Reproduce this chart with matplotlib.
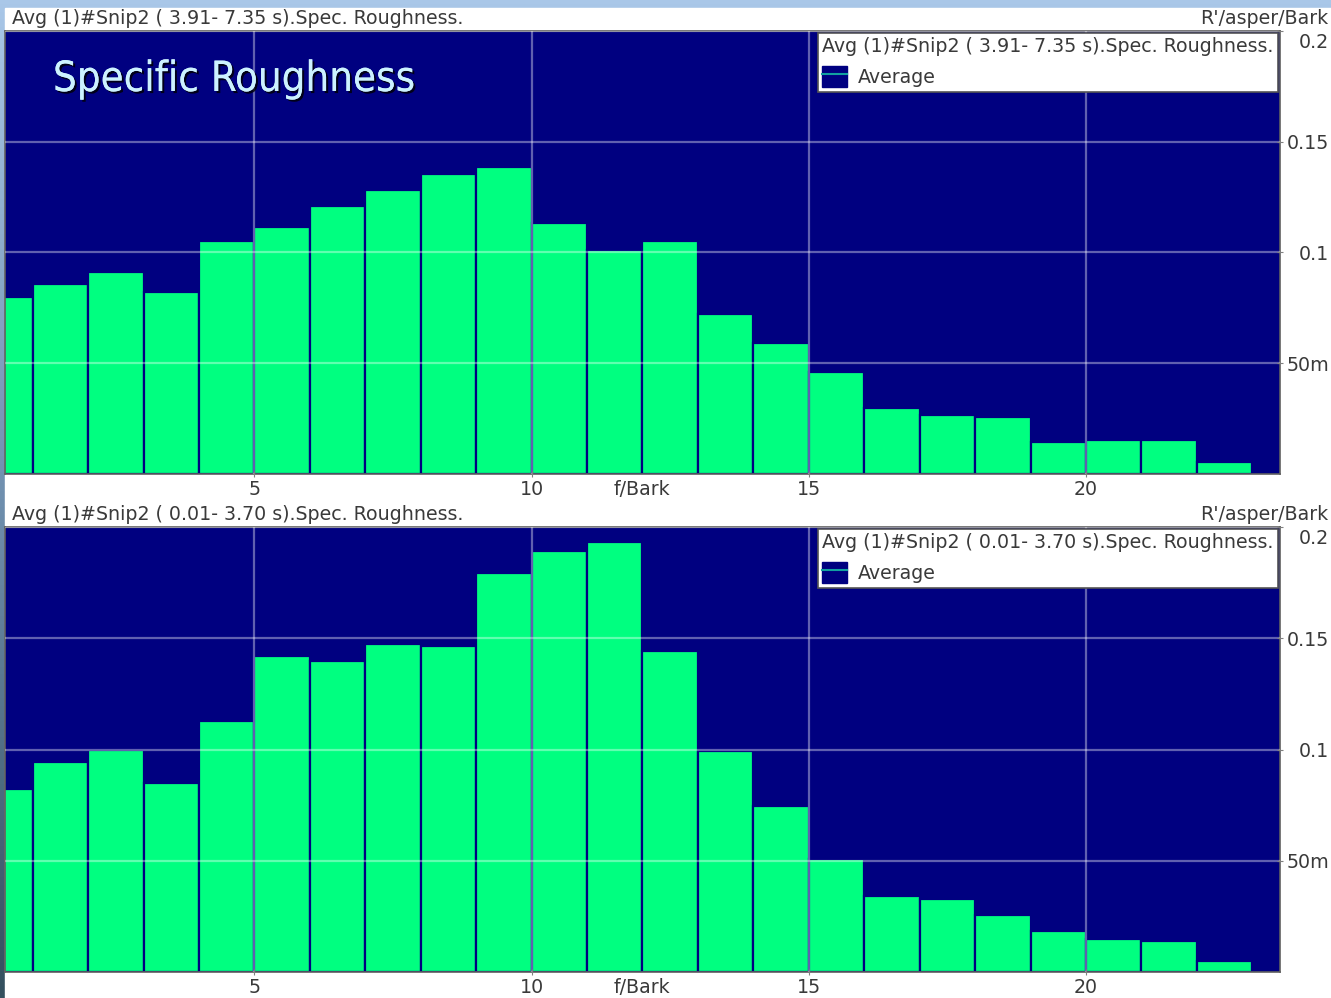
import numpy as np
import matplotlib
matplotlib.use("Agg")
import matplotlib.pyplot as plt
from matplotlib.patches import Patch, Rectangle
from matplotlib.lines import Line2D
from matplotlib.legend_handler import HandlerTuple
import matplotlib.patheffects as pe

# critical band index (Bark), lower edge of each band
bark_bands = np.arange(23)

# specific roughness per band, asper/Bark
rough_late = [0.0799, 0.0858, 0.0910, 0.0822, 0.1052, 0.1113, 0.1209, 0.1280,
              0.1354, 0.1384, 0.1131, 0.1012, 0.1052, 0.0724, 0.0592, 0.0459,
              0.0297, 0.0266, 0.0257, 0.0146, 0.0152, 0.0152, 0.0053]
rough_early = [0.0823, 0.0945, 0.0997, 0.0849, 0.1126, 0.1421, 0.1399, 0.1472,
               0.1463, 0.1795, 0.1894, 0.1932, 0.1441, 0.0994, 0.0745, 0.0510,
               0.0340, 0.0327, 0.0256, 0.0184, 0.0148, 0.0139, 0.0051]

titles = ["Avg (1)#Snip2 ( 3.91- 7.35 s).Spec. Roughness.",
          "Avg (1)#Snip2 ( 0.01- 3.70 s).Spec. Roughness."]
x_ticks = [5, 10, 15, 20]
x_labels = ["5", "10", "15", "20"]
unit_pos = 12
unit_label = "f/Bark"
y_ticks = [0.05, 0.1, 0.15, 0.2]
y_labels = ["50m", "0.1", "0.15", ""]
top_label = "0.2"

NAVY = "#000080"
GREEN = "#00ff80"
TXT = "#3a3a3a"
FS = 13.7

W, H = 1331, 998
fig = plt.figure(figsize=(W / 100, H / 100), dpi=100)

# slide background: gradient strip, then the white chart window
bg = fig.add_axes([0, 0, 1, 1], zorder=-10)
grad = np.linspace(0, 1, 256).reshape(-1, 1)
cmap = matplotlib.colors.LinearSegmentedColormap.from_list("slide", ["#a9c7e8", "#6f8fae", "#34505e"])
bg.imshow(grad, aspect="auto", cmap=cmap, extent=[0, 1, 0, 1])
bg.add_patch(Rectangle((5 / W, 0), 1, (H - 8) / H, color="white", transform=bg.transAxes))
bg.set_xlim(0, 1)
bg.set_ylim(0, 1)
bg.axis("off")


def panel(rect, values, title):
    ax = fig.add_axes(rect)
    ax.set_facecolor(NAVY)
    ax.bar(bark_bands, values, width=1.0, align="edge", color=GREEN,
           edgecolor=NAVY, linewidth=1.6, zorder=1)
    ax.set_xlim(0.5, 23.5)
    ax.set_ylim(0, 0.2)

    ax.set_xticks(x_ticks)
    ax.set_xticklabels(x_labels)
    ax.set_xticks([unit_pos], [unit_label], minor=True)
    ax.tick_params(axis="x", which="major", direction="inout", length=5, pad=1.5,
                   color="#808080", labelcolor=TXT, labelsize=FS)
    ax.tick_params(axis="x", which="minor", length=0, pad=1.5 + 2.5,
                   labelcolor=TXT, labelsize=FS)

    ax.yaxis.tick_right()
    ax.set_yticks(y_ticks)
    ax.set_yticklabels(y_labels)
    ax.tick_params(axis="y", direction="inout", length=5, pad=35.3 - 2.5,
                   color="#808080", labelcolor=TXT, labelsize=FS)
    for lab in ax.get_yticklabels():
        lab.set_horizontalalignment("right")
    ax.annotate(top_label, xy=(1, y_ticks[-1]), xycoords=("axes fraction", "data"),
                xytext=(49, -12), textcoords="offset pixels", ha="right", va="center",
                fontsize=FS, color=TXT, annotation_clip=False)

    ax.grid(True, which="major", color="white", alpha=0.38, linewidth=1.6)
    ax.set_axisbelow(False)
    for s in ax.spines.values():
        s.set_color("#606060")
        s.set_linewidth(1.2)

    handle = (Patch(facecolor=NAVY, edgecolor=NAVY),
              Line2D([], [], color="#12a0a0", linewidth=1.5))
    leg = ax.legend([handle], ["Average"], handler_map={tuple: HandlerTuple(ndivide=1)},
                    title=title, loc="upper right", alignment="left",
                    fancybox=False, framealpha=1, facecolor="white", edgecolor="#555555",
                    borderaxespad=0.12, borderpad=0.22, handlelength=1.3, handleheight=1.35,
                    handletextpad=0.55, labelcolor=TXT, fontsize=FS,
                    title_fontproperties={"size": FS})
    leg.get_title().set_color(TXT)
    leg.get_frame().set_linewidth(1.2)

    top = rect[1] + rect[3]
    fig.text(12 / W, top + 12 / H, title, fontsize=FS, color=TXT, va="center", ha="left")
    fig.text(1328 / W, top + 12 / H, "R'/asper/Bark", fontsize=FS, color=TXT, va="center", ha="right")
    return ax


ax1 = panel([5 / W, 1 - 474 / H, 1275 / W, 443 / H], rough_late, titles[0])
ax2 = panel([5 / W, 1 - 972 / H, 1275 / W, 445 / H], rough_early, titles[1])

ax1.text(48 / 1275, 1 - 48 / 443, "Specific Roughness", transform=ax1.transAxes,
         fontsize=30, color="#ccf2ff", va="center", ha="left",
         family="DejaVu Sans", fontstretch="condensed", zorder=5,
         path_effects=[pe.withSimplePatchShadow(offset=(1.5, -1.5), shadow_rgbFace="black", alpha=0.8),
                       pe.Normal()])

fig.savefig("out.png", dpi=100)
